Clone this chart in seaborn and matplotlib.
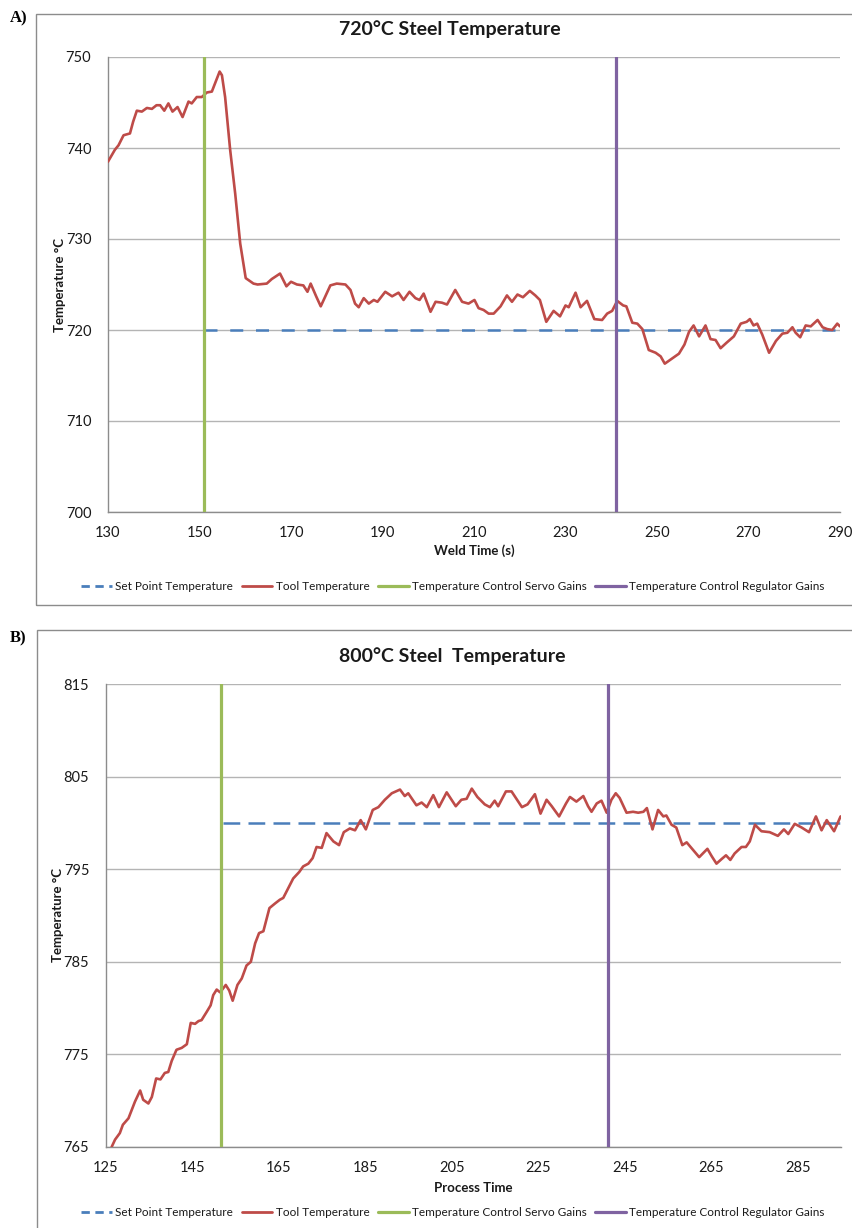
import matplotlib
matplotlib.use("Agg")
import matplotlib.pyplot as plt
import seaborn as sns
from matplotlib.lines import Line2D
from matplotlib.patches import Rectangle

# ---------------- data ----------------
a_time = [130.0, 131.5, 132.3, 133.4, 134.8, 135.5, 136.3, 137.4, 138.5, 139.6, 140.6, 141.4, 142.3,
          143.2, 144.1, 145.2, 146.3, 147.6, 148.3, 149.4, 150.5, 151.6, 152.7, 153.4, 154.4, 154.9,
          155.6, 156.7, 157.8, 158.9, 160.1, 161.8, 162.7, 164.7, 165.8, 167.6, 169.0, 170.0, 171.3,
          172.7, 173.6, 174.3, 175.5, 176.5, 178.6, 180.0, 181.9, 183.0, 184.0, 184.8, 185.9, 187.0,
          188.1, 188.9, 190.6, 192.1, 193.5, 194.6, 195.9, 197.2, 198.1, 199.0, 200.5, 201.6, 203.0,
          204.1, 205.9, 207.4, 208.8, 210.1, 211.0, 212.1, 213.2, 214.3, 215.8, 217.2, 218.3, 219.5,
          220.7, 222.2, 223.4, 224.4, 225.8, 227.4, 228.8, 230.0, 230.7, 232.2, 233.3, 234.7, 236.3,
          238.0, 239.1, 240.2, 241.3, 242.6, 243.3, 244.6, 245.7, 246.8, 248.2, 249.7, 250.8, 251.7,
          253.4, 254.8, 256.0, 257.0, 258.0, 259.2, 260.6, 261.7, 262.8, 263.9, 265.2, 266.8, 268.3,
          269.6, 270.3, 271.1, 271.9, 273.0, 274.5, 276.0, 277.4, 278.5, 279.6, 280.3, 281.3, 282.5,
          283.6, 285.1, 286.2, 287.2, 288.3, 289.4, 290.0]
a_tool = [738.5, 739.8, 740.3, 741.4, 741.6, 742.9, 744.1, 744.0, 744.4, 744.3, 744.7, 744.7, 744.1,
          744.9, 744.0, 744.5, 743.4, 745.1, 744.9, 745.6, 745.6, 746.1, 746.2, 747.1, 748.4, 748.0,
          745.6, 739.8, 735.0, 729.5, 725.7, 725.1, 725.0, 725.1, 725.6, 726.2, 724.8, 725.3, 725.0,
          724.9, 724.2, 725.1, 723.7, 722.6, 724.9, 725.1, 725.0, 724.4, 722.9, 722.5, 723.5, 722.9,
          723.3, 723.1, 724.2, 723.7, 724.1, 723.3, 724.2, 723.5, 723.3, 724.0, 722.0, 723.1, 723.0,
          722.8, 724.4, 723.1, 722.9, 723.3, 722.4, 722.2, 721.8, 721.8, 722.6, 723.8, 723.1, 723.9,
          723.6, 724.3, 723.8, 723.3, 720.9, 722.1, 721.5, 722.7, 722.5, 724.1, 722.5, 723.2, 721.2,
          721.1, 721.8, 722.1, 723.2, 722.7, 722.6, 720.8, 720.7, 720.1, 717.8, 717.5, 717.1, 716.3,
          716.9, 717.4, 718.4, 719.8, 720.5, 719.3, 720.5, 719.0, 718.9, 718.0, 718.6, 719.3, 720.7,
          720.9, 721.2, 720.5, 720.7, 719.5, 717.5, 718.8, 719.6, 719.7, 720.3, 719.7, 719.2, 720.5,
          720.4, 721.1, 720.3, 720.1, 720.0, 720.7, 720.4]
a_set_time = [151.0, 290.0]
a_set_value = [720.0, 720.0]
a_servo_time = 151.0
a_regulator_time = 241.1

b_time = [126.3, 127.1, 128.2, 128.9, 130.2, 131.7, 132.9, 133.6, 134.8, 135.6, 136.6, 137.6, 138.6,
          139.4, 140.2, 141.3, 142.5, 143.7, 144.6, 145.6, 146.4, 147.1, 148.3, 149.2, 149.8, 150.6,
          151.4, 152.7, 153.5, 154.3, 155.4, 156.4, 157.5, 158.5, 159.5, 160.4, 161.4, 162.8, 164.1,
          165.2, 166.0, 167.2, 168.3, 169.7, 170.6, 171.8, 172.8, 173.7, 174.9, 176.0, 177.6, 178.9,
          180.0, 181.4, 182.6, 183.9, 185.1, 186.7, 188.0, 189.5, 191.1, 193.0, 194.1, 194.9, 196.8,
          198.0, 199.2, 200.7, 202.0, 203.8, 205.9, 207.2, 208.4, 209.6, 210.9, 212.6, 213.8, 214.9,
          215.7, 217.5, 218.8, 221.2, 222.5, 224.2, 225.5, 226.9, 228.1, 229.8, 231.4, 232.3, 233.8,
          235.4, 236.5, 237.3, 238.5, 239.6, 240.8, 241.9, 242.9, 243.8, 245.4, 246.9, 248.1, 249.3,
          250.1, 251.4, 252.7, 253.9, 254.6, 255.8, 256.9, 258.3, 259.3, 260.4, 262.2, 264.1, 265.1,
          266.2, 267.4, 268.4, 269.4, 270.4, 272.0, 273.0, 273.9, 275.1, 276.6, 278.5, 280.4, 281.8,
          282.8, 284.3, 285.9, 287.6, 289.2, 290.5, 291.7, 293.4, 294.9]
b_tool = [765.0, 765.8, 766.5, 767.4, 768.1, 769.9, 771.1, 770.1, 769.7, 770.4, 772.4, 772.3, 773.0,
          773.1, 774.3, 775.5, 775.7, 776.1, 778.4, 778.3, 778.6, 778.7, 779.6, 780.3, 781.4, 782.0,
          781.7, 782.5, 781.9, 780.8, 782.5, 783.2, 784.6, 785.0, 787.0, 788.1, 788.3, 790.8, 791.3,
          791.7, 791.9, 793.0, 794.0, 794.7, 795.3, 795.6, 796.2, 797.4, 797.3, 798.9, 798.0, 797.6,
          799.0, 799.4, 799.2, 800.3, 799.3, 801.4, 801.7, 802.5, 803.2, 803.6, 802.9, 803.2, 801.9,
          802.2, 801.7, 803.0, 801.7, 803.3, 801.8, 802.5, 802.6, 803.7, 802.8, 802.0, 801.7, 802.4,
          801.8, 803.4, 803.4, 801.7, 802.0, 803.1, 801.0, 802.5, 801.8, 800.7, 802.1, 802.8, 802.3,
          802.9, 801.8, 801.2, 802.1, 802.4, 801.1, 802.5, 803.2, 802.7, 801.1, 801.2, 801.1, 801.2,
          801.6, 799.3, 801.4, 800.7, 800.8, 799.8, 799.5, 797.6, 797.9, 797.3, 796.3, 797.2, 796.4,
          795.6, 796.1, 796.5, 796.0, 796.7, 797.4, 797.4, 798.0, 799.8, 799.1, 799.0, 798.6, 799.3,
          798.8, 799.9, 799.5, 799.0, 800.7, 799.2, 800.3, 799.1, 800.7]
b_set_time = [152.0, 295.0]
b_set_value = [800.0, 800.0]
b_servo_time = 151.6
b_regulator_time = 241.2

a_xticks = [130, 150, 170, 190, 210, 230, 250, 270, 290]
a_yticks = [700, 710, 720, 730, 740, 750]
b_xticks = [125, 145, 165, 185, 205, 225, 245, 265, 285]
b_yticks = [765, 775, 785, 795, 805, 815]

legend_labels = ["Set Point Temperature", "Tool Temperature",
                 "Temperature Control Servo Gains", "Temperature Control Regulator Gains"]

# ---------------- style ----------------
sns.set_theme(style="white")
plt.rcParams['font.family'] = ['Lato', 'DejaVu Sans']

BLUE = "#4A7EBB"
RED = "#BE4B48"
GREEN = "#9BBB59"
PURPLE = "#7F63A1"
GRID = "#B4B4B4"
SPINE = "#8C8C8C"
TEXT = "#1A1A1A"

W, H = 852, 1228
fig = plt.figure(figsize=(W / 100, H / 100), dpi=100)


def fx(px):
    return px / W


def fy(py):
    return 1 - py / H


# outer frames
fig.patches.append(Rectangle((fx(36), fy(605)), fx(900 - 36), (605 - 14) / H, transform=fig.transFigure,
                             fill=False, edgecolor=SPINE, lw=1.0))
fig.patches.append(Rectangle((fx(37), -0.05), fx(900 - 37), (630 / -H) + 1 + 0.05, transform=fig.transFigure,
                             fill=False, edgecolor=SPINE, lw=1.0))

axA = fig.add_axes([fx(108), fy(512), (840 - 108) / W, (512 - 57) / H])
axB = fig.add_axes([fx(106), fy(1147), (841 - 106) / W, (1147 - 684) / H])


def panel(ax, t, tool, st, sv, servo, reg, xlim, xticks, ylim, yticks, xlabel, dash):
    sns.lineplot(x=st, y=sv, ax=ax, color=BLUE, lw=1.8, linestyle=(0, dash), zorder=3)
    sns.lineplot(x=t, y=tool, ax=ax, color=RED, lw=1.9, zorder=4)
    ax.axvline(servo, color=GREEN, lw=2.3, zorder=5)
    ax.axvline(reg, color=PURPLE, lw=2.3, zorder=5)
    ax.set_xlim(*xlim)
    ax.set_ylim(*ylim)
    ax.set_xticks(xticks)
    ax.set_yticks(yticks)
    ax.yaxis.grid(True, color=GRID, lw=1.0, zorder=0)
    ax.xaxis.grid(False)
    ax.set_axisbelow(True)
    for s in ["top", "right"]:
        ax.spines[s].set_visible(False)
    for s in ["left", "bottom"]:
        ax.spines[s].set_color(SPINE)
        ax.spines[s].set_linewidth(1.0)
    ax.tick_params(axis="both", length=0, labelsize=10.5, labelcolor=TEXT)
    ax.tick_params(axis="y", pad=12)
    ax.tick_params(axis="x", pad=10)
    ax.set_xlabel(xlabel, fontsize=9.5, fontweight="bold", color=TEXT)
    ax.set_ylabel("Temperature °C", fontsize=9.5, fontweight="bold", color=TEXT)
    ax.xaxis.label.set_va("center")
    ax.yaxis.label.set_va("center")


panel(axA, a_time, a_tool, a_set_time, a_set_value, a_servo_time, a_regulator_time,
      (130, 290), a_xticks, (700, 750), a_yticks, "Weld Time (s)", (5.2, 5.1))
axA.xaxis.set_label_coords(0.5, (512 - 551) / (512 - 57))
axA.yaxis.set_label_coords((60 - 108) / (840 - 108), 0.5)

panel(axB, b_time, b_tool, b_set_time, b_set_value, b_servo_time, b_regulator_time,
      (125, 295), b_xticks, (765, 815), b_yticks, "Process Time", (6.7, 3.3))
axB.xaxis.set_label_coords(0.5, (1147 - 1188) / (1147 - 684))
axB.yaxis.set_label_coords((58 - 106) / (841 - 106), 0.5)

# titles
fig.text(fx(450), fy(29), "720°C Steel Temperature", ha="center", va="center",
         fontsize=14, fontweight="bold", color=TEXT)
fig.text(fx(452), fy(656), "800°C Steel  Temperature", ha="center", va="center",
         fontsize=14, fontweight="bold", color=TEXT)

# panel letters
fig.text(fx(10), fy(18), "A)", ha="left", va="center", fontsize=12, fontweight="bold",
         family=["Liberation Serif", "DejaVu Serif"], color="black")
fig.text(fx(10), fy(638), "B)", ha="left", va="center", fontsize=12, fontweight="bold",
         family=["Liberation Serif", "DejaVu Serif"], color="black")


def legend_handles(dash):
    return [Line2D([], [], color=BLUE, lw=2.0, linestyle=(0, dash)),
            Line2D([], [], color=RED, lw=2.0),
            Line2D([], [], color=GREEN, lw=2.3),
            Line2D([], [], color=PURPLE, lw=2.3)]


for ypx, dash in [(587, (3.0, 2.0)), (1213, (3.0, 2.0))]:
    fig.legend(legend_handles(dash), legend_labels, loc="center",
               bbox_to_anchor=(fx(453), fy(ypx)), ncol=4, frameon=False,
               fontsize=8.5, handlelength=2.6, handletextpad=0.3, columnspacing=0.7,
               labelcolor=TEXT)

fig.savefig("out.png", dpi=100, facecolor="white")
